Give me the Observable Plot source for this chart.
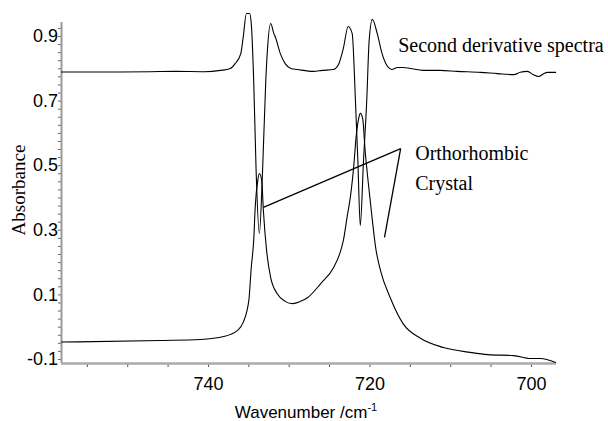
<!DOCTYPE html>
<html><head><meta charset="utf-8">
<script src="https://cdn.jsdelivr.net/npm/d3@7"></script>
<script src="https://cdn.jsdelivr.net/npm/@observablehq/plot@0.6"></script>
<style>body{margin:0;background:#fff}</style>
</head><body><div id="chart"></div>
<script>
// Second derivative spectrum (upper trace)
const derivWavenumber = [758.2,753.4,747.2,744.1,740.5,738.5,737.3,736.7,736.0,735.7,735.3,734.9,734.7,734.4,734.1,733.7,733.3,732.9,732.7,732.3,731.9,731.7,731.1,730.5,729.8,729.0,727.0,725.9,724.5,723.9,723.3,722.7,722.2,721.8,721.5,721.2,720.8,720.4,720.1,719.7,719.1,718.5,717.9,717.3,716.6,715.9,715.0,713.4,711.3,709.2,706.3,704.2,702.2,701.4,700.5,699.8,699.1,698.5,698.0,697.0];
const derivAbsorbance = [0.790,0.790,0.791,0.792,0.791,0.795,0.801,0.816,0.847,0.897,0.971,0.971,0.940,0.764,0.485,0.290,0.485,0.764,0.857,0.940,0.909,0.897,0.847,0.816,0.801,0.798,0.792,0.795,0.798,0.813,0.863,0.931,0.909,0.702,0.516,0.315,0.516,0.702,0.888,0.953,0.909,0.847,0.810,0.798,0.804,0.804,0.801,0.795,0.795,0.792,0.789,0.785,0.782,0.789,0.792,0.782,0.776,0.785,0.789,0.789];
// Absorbance spectrum (lower trace)
const absWavenumber = [758.2,745.9,741.0,738.1,736.4,735.7,735.0,734.7,734.4,734.2,733.9,733.7,733.4,733.2,732.8,732.3,731.5,730.5,729.6,728.6,727.7,726.1,724.5,723.7,723.3,722.8,722.4,722.0,721.7,721.4,721.2,720.9,720.6,720.2,719.7,719.3,718.7,717.5,715.9,713.7,710.9,707.6,705.4,702.2,700.1,698.9,697.0];
const absAbsorbance = [-0.046,-0.041,-0.038,-0.029,-0.010,0.015,0.083,0.185,0.268,0.377,0.454,0.476,0.454,0.361,0.237,0.154,0.104,0.080,0.073,0.080,0.092,0.135,0.185,0.231,0.268,0.346,0.408,0.501,0.593,0.646,0.662,0.646,0.547,0.445,0.330,0.247,0.176,0.092,0.011,-0.035,-0.063,-0.078,-0.085,-0.088,-0.097,-0.097,-0.109];
// Axes
const yTickLabels = [0.9, 0.7, 0.5, 0.3, 0.1, -0.1];
const xTickLabels = [740, 720, 700];
const xMinorTicks = [755,750,745,740,735,730,725,720,715,710,705,700];
const xTitle = "Wavenumber /cm-1";
const yTitle = "Absorbance";
// Annotations
const noteLabels = ["Second derivative spectra", "Orthorhombic", "Crystal"];
const noteWavenumber = [716.5, 714.4, 714.4];
const noteAbsorbance = [0.872, 0.538, 0.445];
const pointerStartWavenumber = [716.2, 716.2];
const pointerStartAbsorbance = [0.553, 0.553];
const pointerEndWavenumber = [733.2, 718.2];
const pointerEndAbsorbance = [0.371, 0.278];

const xDomain = [758.2, 696.9];
const yDomain = [-0.1124, 0.9433];

const deriv = derivWavenumber.map((w, i) => ({w, a: derivAbsorbance[i]}));
const absb = absWavenumber.map((w, i) => ({w, a: absAbsorbance[i]}));
const notes = noteLabels.map((t, i) => ({t, w: noteWavenumber[i], a: noteAbsorbance[i]}));
const pointers = pointerEndWavenumber.map((w, i) => ({w1: pointerStartWavenumber[i], a1: pointerStartAbsorbance[i], w2: w, a2: pointerEndAbsorbance[i]}));
const yMinor = d3.range(-0.1, 0.93, 0.025);

const sans = "'Liberation Sans', Arial, sans-serif";
const serif = "'Liberation Serif', 'Times New Roman', serif";

const plot = Plot.plot({
  width: 608, height: 421,
  marginLeft: 61, marginRight: 52, marginTop: 22, marginBottom: 58,
  style: {background: "#fff", color: "#000", fontFamily: sans, overflow: "visible"},
  x: {domain: xDomain},
  y: {domain: yDomain},
  marks: [
    Plot.axisY({ticks: yMinor, tickSize: 3, text: null, stroke: "#666"}),
    Plot.axisY({ticks: yTickLabels, tickSize: 0, tickPadding: 3.5, fontSize: 18, tickFormat: d => String(d), label: null}),
    Plot.axisX({ticks: xMinorTicks, tickSize: 4, text: null, stroke: "#555"}),
    Plot.axisX({ticks: xTickLabels, tickSize: 0, tickPadding: 14, fontSize: 18, tickFormat: d => String(d), label: null}),
    Plot.ruleX([xDomain[0]], {stroke: "#999", strokeWidth: 2}),
    Plot.ruleY([yDomain[0]], {stroke: "#aaa", strokeWidth: 2.5}),
    Plot.line(absb, {x: "w", y: "a", stroke: "#000", strokeWidth: 1.1, curve: "monotone-x"}),
    Plot.line(deriv, {x: "w", y: "a", stroke: "#000", strokeWidth: 1.1, curve: "monotone-x"}),
    Plot.link(pointers, {x1: "w1", y1: "a1", x2: "w2", y2: "a2", stroke: "#000", strokeWidth: 1.3}),
    Plot.text(notes, {x: "w", y: "a", text: "t", textAnchor: "start", fontSize: 20, fontFamily: serif}),
    Plot.text([yTitle], {frameAnchor: "left", textAnchor: "middle", rotate: -90, dx: -43, dy: -3, fontSize: 19, fontFamily: serif}),
    Plot.text([xTitle], {frameAnchor: "bottom", dx: -3, dy: 54, fontSize: 17, fontFamily: sans})
  ]
});
document.getElementById("chart").appendChild(plot);
d3.select(plot).selectAll("text").filter(function(){ return this.textContent === xTitle; }).each(function(){
  const t = d3.select(this);
  t.text(null);
  t.append("tspan").text("Wavenumber /cm");
  t.append("tspan").attr("dy", "-0.55em").attr("font-size", "0.65em").text("-1");
});
</script>
</body></html>
